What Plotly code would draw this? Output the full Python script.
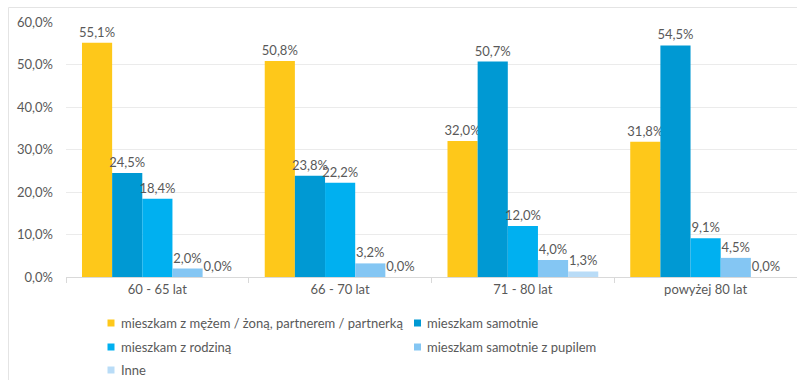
import plotly.graph_objects as go

# Age groups on the x axis
categories = ["60 - 65 lat", "66 - 70 lat", "71 - 80 lat", "powyżej 80 lat"]

# Share of respondents per living situation (%)
series_names = [
    "mieszkam z mężem / żoną, partnerem / partnerką",
    "mieszkam samotnie",
    "mieszkam z rodziną",
    "mieszkam samotnie z pupilem",
    "Inne",
]
with_partner = [55.1, 50.8, 32.0, 31.8]
alone = [24.5, 23.8, 50.7, 54.5]
with_family = [18.4, 22.2, 12.0, 9.1]
alone_with_pet = [2.0, 3.2, 4.0, 4.5]
other = [0.0, 0.0, 1.3, 0.0]

y_ticks = [0, 10, 20, 30, 40, 50, 60]
y_tick_labels = ["0,0%", "10,0%", "20,0%", "30,0%", "40,0%", "50,0%", "60,0%"]

series_values = [with_partner, alone, with_family, alone_with_pet, other]
colors = ["#FEC81A", "#0099D3", "#00B0F0", "#84C6F3", "#B9DCF7"]

W, H = 797, 380
L, R, T, B = 66, 0, 22, 103
pw, ph = W - L - R, H - T - B

TEXT = "#595959"
FONT = "Lato, 'Open Sans', sans-serif"


def px_x(px):
    return (px - L) / pw


def px_y(py):
    return (T + ph - py) / ph


fig = go.Figure()
for name, vals, col in zip(series_names, series_values, colors):
    fig.add_trace(go.Bar(
        x=categories,
        y=vals,
        name=name,
        marker=dict(color=col, line=dict(width=0)),
        texttemplate="%{y:.1f}%",
        textposition="outside",
        constraintext="none",
        cliponaxis=False,
        textfont=dict(family=FONT, size=13, color=TEXT),
        hoverinfo="skip",
        showlegend=False,
    ))

fig.update_layout(
    width=W,
    height=H,
    margin=dict(l=L, r=R, t=T, b=B, pad=0),
    paper_bgcolor="white",
    plot_bgcolor="white",
    separators=", ",
    barmode="group",
    bargap=0.175,
    bargroupgap=0,
    font=dict(family=FONT, size=13, color=TEXT),
    showlegend=False,
    xaxis=dict(
        showgrid=False,
        showline=True,
        linecolor="#D9D9D9",
        linewidth=1,
        ticks="outside",
        tickson="boundaries",
        ticklen=5,
        tickcolor="#D9D9D9",
        tickfont=dict(family=FONT, size=13, color=TEXT),
        automargin=False,
        fixedrange=True,
    ),
    yaxis=dict(
        range=[0, 60],
        tickmode="array",
        tickvals=y_ticks,
        ticktext=y_tick_labels,
        showgrid=True,
        gridcolor="#EBEBEB",
        gridwidth=1,
        zeroline=False,
        showline=False,
        ticks="",
        ticklabelstandoff=12,
        tickfont=dict(family=FONT, size=13, color=TEXT),
        automargin=False,
        fixedrange=True,
    ),
)

# Thin frame around the chart area
fig.add_shape(
    type="rect",
    xref="paper", yref="paper",
    x0=px_x(8.5), x1=px_x(W + 10),
    y0=px_y(H + 10), y1=px_y(7.5),
    line=dict(color="#E4E4E4", width=1),
    fillcolor="rgba(0,0,0,0)",
    layer="below",
)

# Legend: two columns, three rows below the axis
legend_cols = [111, 417.5]
legend_rows = [323, 347, 370]
sw = 3.5
for i, (name, col) in enumerate(zip(series_names, colors)):
    cx = legend_cols[i % 2]
    cy = legend_rows[i // 2]
    fig.add_shape(
        type="rect",
        xref="paper", yref="paper",
        x0=px_x(cx - sw), x1=px_x(cx + sw),
        y0=px_y(cy + sw), y1=px_y(cy - sw),
        line=dict(width=0),
        fillcolor=col,
    )
    fig.add_annotation(
        xref="paper", yref="paper",
        x=px_x(cx + 7.5), y=px_y(cy),
        xanchor="left", yanchor="middle",
        text=name,
        showarrow=False,
        font=dict(family=FONT, size=13, color=TEXT),
    )

fig.write_html("out.html", config={"displayModeBar": False})
